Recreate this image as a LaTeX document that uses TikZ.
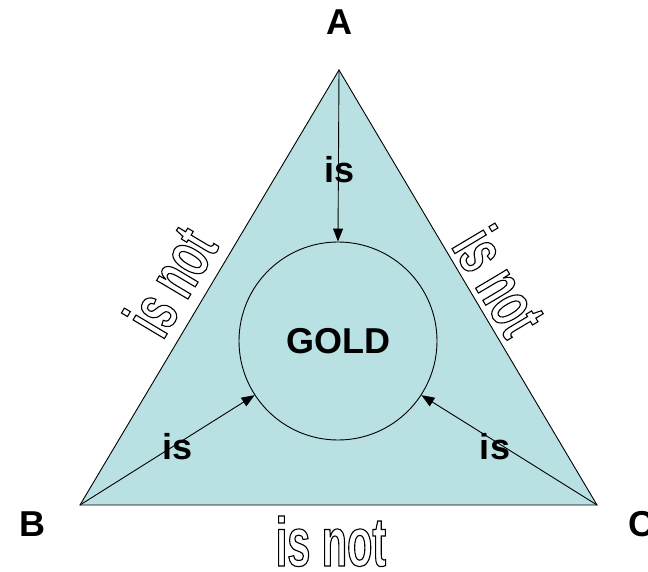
\documentclass[tikz,border=0pt]{standalone}
\usepackage{fontspec}
\setmainfont{Liberation Sans}
\newfontfamily\narrowsans[FakeStretch=0.6]{Liberation Sans}
\usetikzlibrary{arrows.meta}
\definecolor{paleteal}{RGB}{185, 224, 227}
% outlined letters (stroke only)
\newcommand{\outlined}[1]{\special{pdf:literal direct 1 Tr 1.1 w}#1\special{pdf:literal direct 0 Tr}}

\begin{document}
\begin{tikzpicture}[x=1pt, y=-1pt, line width=0.9pt,
  every node/.style={font=\bfseries\fontsize{36}{36}\selectfont},
  isnot/.style={font=\narrowsans\bfseries\fontsize{69}{69}\selectfont, inner sep=0pt},
  rel/.style={-{Triangle[length=13pt, width=10pt]}}]
\useasboundingbox (0,0) rectangle (648,572);
% corners
\coordinate (a) at (339,70);
\coordinate (b) at (80,505);
\coordinate (c) at (597,505);
\draw[fill=paleteal] (a) -- (b) -- (c) -- cycle;
\node[draw, circle, minimum size=198pt, inner sep=0pt] (gold) at (338,341) {GOLD};
% vertex letters
\node (A) at (339,22) {A};
\node (B) at (32,524) {B};
\node (C) at (641,524) {C};
% arrows into the circle
\draw[rel] (a) -- (gold.north);
\draw[rel] (b) -- (gold.-147);
\draw[rel] (c) -- (gold.-33);
\node (is1) at (340,170) {is};
\node (is2) at (178,447) {is};
\node (is3) at (495,447) {is};
% outlined edge labels
\node[isnot, rotate=59.2] (ab) at (170,281) {\outlined{is not}};
\node[isnot, rotate=-59.2] (ac) at (500,281) {\outlined{is not}};
\node[isnot, anchor=base] (bc) at (331,566) {\outlined{is not}};
\end{tikzpicture}
\end{document}
